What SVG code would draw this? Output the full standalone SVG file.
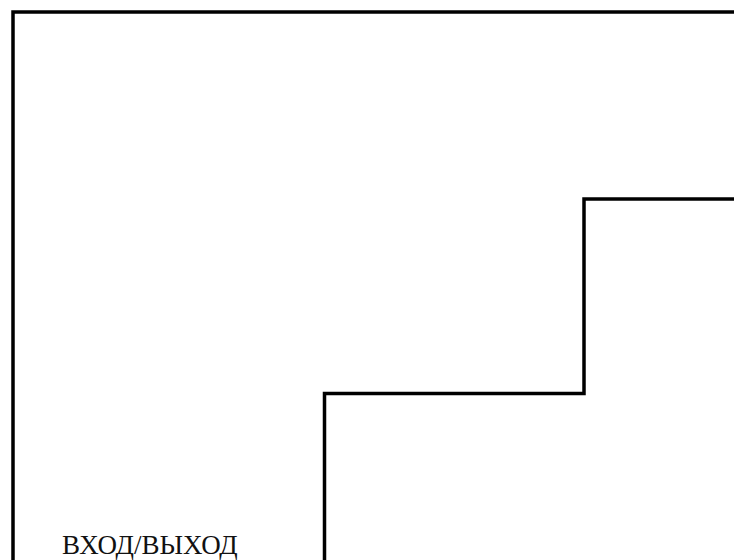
<svg xmlns="http://www.w3.org/2000/svg" width="734" height="560" viewBox="0 0 734 560">
<style>
.wall{fill:none;stroke:#000;stroke-width:3.5;stroke-linejoin:miter;stroke-linecap:square}
.lbl{font-family:"Liberation Serif","Times New Roman",serif;font-size:27px;fill:#111}
</style>
<rect width="734" height="560" fill="#fff"/>
<g id="walls">
<path class="wall" d="M13,562 L13,12 L740,12"/>
<path class="wall" d="M740,199 L584,199 L584,393.5 L324.5,393.5 L324.5,562"/>
</g>
<g id="entrance">
<text class="lbl" x="62" y="554">ВХОД/ВЫХОД</text>
</g>
</svg>
